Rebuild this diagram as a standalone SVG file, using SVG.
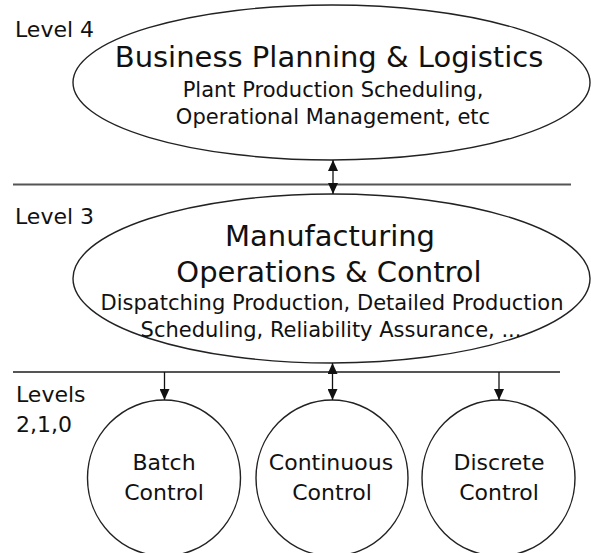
<svg xmlns="http://www.w3.org/2000/svg" width="591" height="553" viewBox="0 0 591 553">
  <defs>
    <style>
      text { font-family: "DejaVu Sans", Verdana, sans-serif; fill: #111; }
      .lvl { font-size: 22px; }
      .title { font-size: 29px; text-anchor: middle; }
      .sub { font-size: 21px; text-anchor: middle; }
      .ctl { font-size: 22px; text-anchor: middle; }
      .shape { fill: #fff; stroke: #222; stroke-width: 1.4; }
      .rule { stroke: #555; stroke-width: 1.8; fill: none; }
      .link { stroke: #111; stroke-width: 1.3; fill: none; }
    </style>
    <marker id="head" viewBox="0 0 11 10" refX="11" refY="5" markerWidth="11" markerHeight="10" markerUnits="userSpaceOnUse" orient="auto-start-reverse">
      <path d="M0,0 L11,5 L0,10 Z" fill="#111"/>
    </marker>
  </defs>

  <rect width="591" height="553" fill="#fff"/>

  <!-- level separators -->
  <g id="separators">
    <line class="rule" x1="13" y1="184.5" x2="571" y2="184.5"/>
    <line class="rule" x1="13" y1="372" x2="560" y2="372"/>
  </g>

  <!-- level labels -->
  <g id="level-labels">
    <text class="lvl" x="15" y="37">Level 4</text>
    <text class="lvl" x="15" y="224">Level 3</text>
    <text class="lvl" x="16" y="402">Levels</text>
    <text class="lvl" x="16" y="432">2,1,0</text>
  </g>

  <g id="business-planning">
    <ellipse class="shape" cx="331.5" cy="82.5" rx="258.5" ry="77.5"/>
    <text class="title" x="329" y="67">Business Planning &amp; Logistics</text>
    <text class="sub" x="333" y="97">Plant Production Scheduling,</text>
    <text class="sub" x="333" y="124">Operational Management, etc</text>
  </g>

  <g id="manufacturing-ops">
    <ellipse class="shape" cx="331.5" cy="278.5" rx="258.5" ry="84.5"/>
    <text class="title" x="330" y="246">Manufacturing</text>
    <text class="title" x="329" y="282">Operations &amp; Control</text>
    <text class="sub" x="332" y="310">Dispatching Production, Detailed Production</text>
    <text class="sub" x="331" y="337">Scheduling, Reliability Assurance, ...</text>
  </g>

  <g id="batch-control">
    <ellipse class="shape" cx="164" cy="478" rx="76.5" ry="78"/>
    <text class="ctl" x="164" y="470">Batch</text>
    <text class="ctl" x="164" y="500">Control</text>
  </g>

  <g id="continuous-control">
    <ellipse class="shape" cx="332" cy="478" rx="76" ry="78"/>
    <text class="ctl" x="331" y="470">Continuous</text>
    <text class="ctl" x="332" y="500">Control</text>
  </g>

  <g id="discrete-control">
    <ellipse class="shape" cx="498.5" cy="478" rx="76.5" ry="78"/>
    <text class="ctl" x="499" y="470">Discrete</text>
    <text class="ctl" x="499" y="500">Control</text>
  </g>

  <!-- connectors between levels -->
  <g id="connectors">
    <line class="link" x1="333" y1="160" x2="333" y2="194" marker-start="url(#head)" marker-end="url(#head)"/>
    <line class="link" x1="164.5" y1="372" x2="164.5" y2="400" marker-end="url(#head)"/>
    <line class="link" x1="332.5" y1="363" x2="332.5" y2="400" marker-start="url(#head)" marker-end="url(#head)"/>
    <line class="link" x1="499" y1="372" x2="499" y2="400" marker-end="url(#head)"/>
  </g>
</svg>
